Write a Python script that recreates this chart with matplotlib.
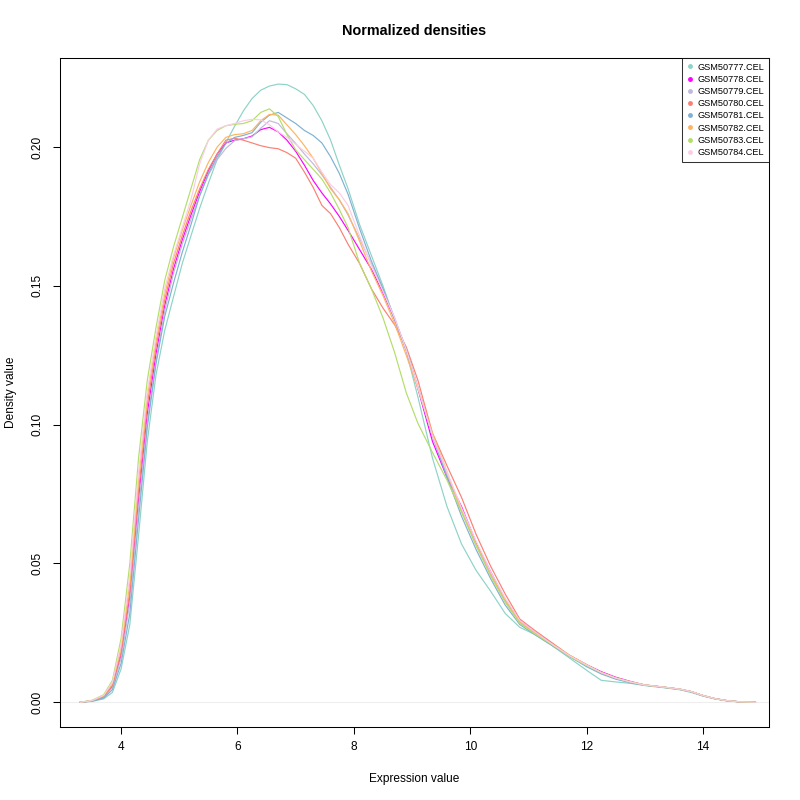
import matplotlib
matplotlib.use("Agg")
import matplotlib.pyplot as plt

plt.rcParams['font.family'] = ['Liberation Sans', 'DejaVu Sans']

# expression grid shared by all samples
expr = [3.3, 3.5, 3.7, 3.85, 4.0, 4.15, 4.3, 4.45, 4.6, 4.75,
        4.9, 5.05, 5.2, 5.35, 5.5, 5.65, 5.8, 5.95, 6.1, 6.25,
        6.4, 6.55, 6.7, 6.85, 7.0, 7.15, 7.3, 7.45, 7.6, 7.75,
        7.9, 8.1, 8.3, 8.5, 8.7, 8.9, 9.1, 9.35, 9.6, 9.85,
        10.1, 10.35, 10.6, 10.85, 11.1, 11.4, 11.7, 12.0, 12.25, 12.5,
        12.75, 13.0, 13.3, 13.6, 13.8, 14.0, 14.2, 14.4, 14.6, 14.9]

samples = ["GSM50777.CEL", "GSM50778.CEL", "GSM50779.CEL", "GSM50780.CEL",
           "GSM50781.CEL", "GSM50782.CEL", "GSM50783.CEL", "GSM50784.CEL"]

colors = ["#8DD3C7", "#FF00FF", "#BEBADA", "#FB8072",
          "#80B1D3", "#FDB462", "#B3DE69", "#FCCDE5"]

d_50777 = [0.0, 0.0003, 0.0012, 0.0035, 0.012, 0.028, 0.060, 0.094, 0.118, 0.134,
           0.146, 0.158, 0.168, 0.178, 0.187, 0.1955, 0.2016, 0.2075, 0.213, 0.2175,
           0.2205, 0.222, 0.2227, 0.2225, 0.221, 0.219, 0.215, 0.2095, 0.2025, 0.1935,
           0.185, 0.172, 0.161, 0.150, 0.138, 0.1265, 0.110, 0.088, 0.0705, 0.057,
           0.0475, 0.040, 0.032, 0.027, 0.0245, 0.0205, 0.016, 0.0115, 0.0079, 0.0073,
           0.0068, 0.0060, 0.0053, 0.0045, 0.0035, 0.0022, 0.0012, 0.0005, 0.0002, 0.0]
d_50778 = [0.0, 0.0005, 0.0019, 0.0057, 0.017, 0.038, 0.073, 0.104, 0.1255, 0.143,
           0.156, 0.1665, 0.1755, 0.184, 0.1915, 0.1975, 0.2015, 0.2025, 0.203, 0.204,
           0.2063, 0.2071, 0.2055, 0.2025, 0.1985, 0.1935, 0.188, 0.1835, 0.1795, 0.175,
           0.170, 0.163, 0.156, 0.1475, 0.138, 0.127, 0.113, 0.094, 0.081, 0.0705,
           0.0575, 0.047, 0.037, 0.0295, 0.0255, 0.021, 0.0168, 0.0135, 0.011, 0.009,
           0.0075, 0.0062, 0.0055, 0.0047, 0.0038, 0.0024, 0.0013, 0.0006, 0.0002, 0.0]
d_50779 = [0.0, 0.0005, 0.0018, 0.0053, 0.016, 0.036, 0.070, 0.101, 0.123, 0.141,
           0.1545, 0.165, 0.174, 0.1825, 0.190, 0.1955, 0.1995, 0.2023, 0.203, 0.2037,
           0.2068, 0.2095, 0.2085, 0.2048, 0.2013, 0.1975, 0.194, 0.190, 0.1855, 0.181,
           0.1755, 0.167, 0.158, 0.1485, 0.1385, 0.127, 0.1135, 0.096, 0.082, 0.069,
           0.0565, 0.046, 0.0365, 0.029, 0.025, 0.021, 0.0167, 0.0133, 0.0107, 0.0087,
           0.0073, 0.0062, 0.0055, 0.0047, 0.0038, 0.0024, 0.0013, 0.0006, 0.0002, 0.0]
d_50780 = [0.0, 0.0005, 0.002, 0.006, 0.018, 0.040, 0.076, 0.107, 0.128, 0.145,
           0.158, 0.168, 0.177, 0.185, 0.192, 0.1975, 0.2025, 0.2032, 0.2025, 0.2015,
           0.2005, 0.1998, 0.1994, 0.198, 0.196, 0.191, 0.1855, 0.179, 0.176, 0.171,
           0.165, 0.158, 0.149, 0.142, 0.136, 0.128, 0.116, 0.097, 0.0852, 0.0738,
           0.0605, 0.049, 0.039, 0.030, 0.026, 0.0215, 0.017, 0.0135, 0.0105, 0.0087,
           0.0073, 0.0062, 0.0055, 0.0047, 0.0038, 0.0024, 0.0013, 0.0006, 0.0002, 0.0]
d_50781 = [0.0, 0.0004, 0.0015, 0.0045, 0.014, 0.032, 0.066, 0.099, 0.122, 0.139,
           0.151, 0.162, 0.172, 0.1825, 0.1905, 0.1965, 0.2013, 0.2035, 0.2042, 0.2052,
           0.209, 0.2115, 0.2125, 0.2105, 0.2085, 0.206, 0.2042, 0.2015, 0.1965, 0.1905,
           0.183, 0.1705, 0.159, 0.149, 0.138, 0.127, 0.1135, 0.096, 0.081, 0.067,
           0.055, 0.0445, 0.035, 0.028, 0.0245, 0.0205, 0.0165, 0.0128, 0.0102, 0.0083,
           0.0070, 0.0061, 0.0054, 0.0046, 0.0037, 0.0023, 0.0013, 0.0006, 0.0002, 0.0]
d_50782 = [0.0, 0.0006, 0.0023, 0.0067, 0.020, 0.043, 0.080, 0.110, 0.130, 0.147,
           0.160, 0.170, 0.179, 0.1875, 0.1945, 0.200, 0.2035, 0.2045, 0.2048, 0.206,
           0.2095, 0.2118, 0.2115, 0.208, 0.2045, 0.2005, 0.196, 0.1905, 0.185, 0.181,
           0.176, 0.166, 0.1555, 0.1465, 0.1365, 0.125, 0.113, 0.097, 0.083, 0.069,
           0.057, 0.046, 0.037, 0.029, 0.025, 0.021, 0.017, 0.0135, 0.0108, 0.0088,
           0.0074, 0.0062, 0.0055, 0.0047, 0.0038, 0.0024, 0.0013, 0.0006, 0.0002, 0.0]
d_50783 = [0.0, 0.0007, 0.0027, 0.0078, 0.023, 0.050, 0.088, 0.116, 0.135, 0.152,
           0.164, 0.1745, 0.185, 0.1955, 0.2025, 0.206, 0.2077, 0.2082, 0.2085, 0.2095,
           0.2125, 0.2138, 0.211, 0.2045, 0.199, 0.1955, 0.192, 0.1885, 0.1835, 0.1775,
           0.171, 0.158, 0.149, 0.1385, 0.126, 0.1115, 0.1005, 0.090, 0.080, 0.0685,
           0.0565, 0.0455, 0.036, 0.0285, 0.0248, 0.0208, 0.0166, 0.0132, 0.0106, 0.0087,
           0.0073, 0.0062, 0.0055, 0.0047, 0.0038, 0.0024, 0.0013, 0.0006, 0.0002, 0.0]
d_50784 = [0.0, 0.0006, 0.0025, 0.0072, 0.021, 0.046, 0.083, 0.112, 0.132, 0.149,
           0.161, 0.171, 0.181, 0.194, 0.2025, 0.2065, 0.2077, 0.2085, 0.2095, 0.210,
           0.2098, 0.208, 0.2055, 0.2035, 0.201, 0.1985, 0.196, 0.191, 0.1865, 0.1835,
           0.179, 0.168, 0.1575, 0.148, 0.1385, 0.127, 0.1135, 0.096, 0.083, 0.070,
           0.058, 0.047, 0.0375, 0.0295, 0.0255, 0.021, 0.0168, 0.0134, 0.0107, 0.0087,
           0.0073, 0.0062, 0.0055, 0.0047, 0.0038, 0.0024, 0.0013, 0.0006, 0.0002, 0.0]

densities = [d_50777, d_50778, d_50779, d_50780, d_50781, d_50782, d_50783, d_50784]

xticks = [4, 6, 8, 10, 12, 14]
yticks = [0.00, 0.05, 0.10, 0.15, 0.20]

fig = plt.figure(figsize=(8, 8), dpi=100)
ax = fig.add_axes([0.075, 0.091, 0.886, 0.8365])

# faint zero line, as plot.density draws it
ax.axhline(0, color="#eeeeee", lw=0.8, zorder=0)
for dens, col in zip(densities, colors):
    ax.plot(expr, dens, color=col, lw=0.85)

ax.set_xlim(2.95, 15.13)
ax.set_ylim(-0.009, 0.2321)

ax.set_xticks(xticks)
ax.set_yticks(yticks)
ax.set_yticklabels([f"{v:.2f}" for v in yticks], rotation=90, va="center")
ax.tick_params(direction="out", length=5, width=0.75, labelsize=8.6, color="black")
ax.tick_params(axis="x", pad=5)
ax.tick_params(axis="y", pad=7)
for sp in ax.spines.values():
    sp.set_linewidth(0.75)

ax.set_title("Normalized densities", fontsize=10.4, fontweight="bold", pad=16.5)
ax.set_xlabel("Expression value", fontsize=8.6, labelpad=14)
ax.set_ylabel("Density value", fontsize=8.6, labelpad=10)

handles = [plt.Line2D([], [], ls="none", marker="o", ms=2.5, color=c) for c in colors]
leg = ax.legend(handles, samples, loc="upper right", fontsize=6.6, frameon=True,
                fancybox=False, borderaxespad=0, handlelength=0.8, handletextpad=0.4,
                labelspacing=0.35, borderpad=0.5)
leg.get_frame().set_edgecolor("black")
leg.get_frame().set_linewidth(0.75)

fig.savefig("out.png", dpi=100)
